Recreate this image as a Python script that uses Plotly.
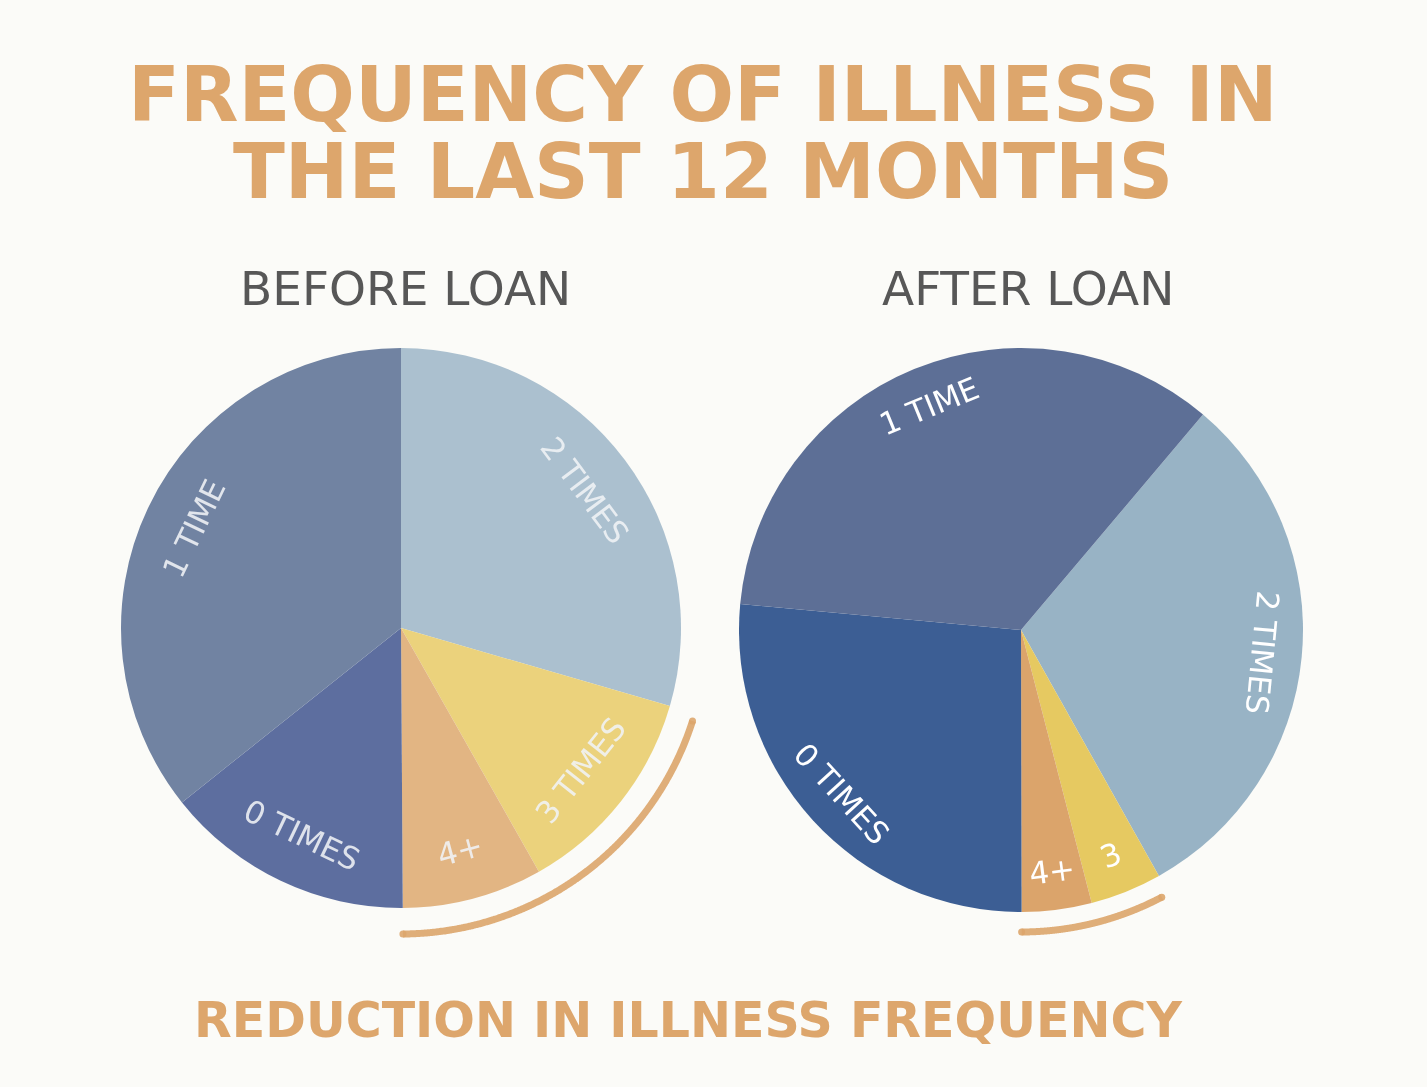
import math
import plotly.graph_objects as go

W, H = 1427, 1087

# ---- data (share of respondents, %) ----
labels_before = ["2 TIMES", "3 TIMES", "4+", "0 TIMES", "1 TIME"]
values_before = [29.5, 12.3, 8.1, 14.4, 35.7]
colors_before = ["#abc0cf", "#ebd27c", "#e2b583", "#5d6e9f", "#7183a2"]

labels_after = ["2 TIMES", "3", "4+", "0 TIMES", "1 TIME"]
values_after = [30.7, 4.1, 4.0, 26.5, 34.7]
colors_after = ["#98b3c5", "#e6c961", "#dba46b", "#3c5e94", "#5d6f96"]
rotation_after = 40.2

title_lines = ["FREQUENCY OF ILLNESS IN", "THE LAST 12 MONTHS"]
subtitles = ["BEFORE LOAN", "AFTER LOAN"]
footer = "REDUCTION IN ILLNESS FREQUENCY"

# ---- layout geometry (pixels) ----
pies = [
    dict(cx=401, cy=628, r=280, labels=labels_before, values=values_before,
         colors=colors_before, rot=0, tcolor="rgba(240,242,246,0.88)", arc_r=306, lr=0.82),
    dict(cx=1021, cy=630, r=282, labels=labels_after, values=values_after,
         colors=colors_after, rot=rotation_after, tcolor="#ffffff", arc_r=302, lr=0.86),
]

ORANGE = "#dda66c"
fig = go.Figure()
annotations = []

for p in pies:
    fig.add_trace(go.Pie(
        labels=p["labels"], values=p["values"], sort=False, direction="clockwise",
        rotation=p["rot"], marker=dict(colors=p["colors"], line=dict(width=0)),
        textinfo="none", hoverinfo="label+percent", showlegend=False,
        domain=dict(x=[(p["cx"] - p["r"]) / W, (p["cx"] + p["r"]) / W],
                    y=[1 - (p["cy"] + p["r"]) / H, 1 - (p["cy"] - p["r"]) / H]),
    ))
    total = sum(p["values"])
    ang = p["rot"]
    starts = []
    for lab, v in zip(p["labels"], p["values"]):
        span = v / total * 360
        starts.append(ang)
        mid = ang + span / 2
        th = math.radians(mid)
        rr = p["r"] * p["lr"]
        x = p["cx"] + rr * math.sin(th)
        y = p["cy"] - rr * math.cos(th)
        m = mid % 360
        if 105 < m < 255:
            ta = m - 180
        else:
            ta = m if m <= 180 else m - 360
        annotations.append(dict(x=x, y=y, xref="x", yref="y", text=lab, showarrow=False,
                                textangle=ta, xanchor="center", yanchor="middle",
                                font=dict(family="DejaVu Sans", size=31, color=p["tcolor"])))
        ang += span
    # decorative arc spanning the "3" and "4+" slices
    a0 = starts[1] + 1.5
    a1 = starts[3]
    n = 240
    xs, ys = [], []
    for i in range(n + 1):
        t = math.radians(a0 + (a1 - a0) * i / n)
        xs.append(p["cx"] + p["arc_r"] * math.sin(t))
        ys.append(p["cy"] - p["arc_r"] * math.cos(t))
    fig.add_trace(go.Scatter(x=xs, y=ys, mode="lines",
                             line=dict(color=ORANGE, width=7, shape="spline"),
                             hoverinfo="skip", showlegend=False, opacity=0.9))
    fig.add_trace(go.Scatter(x=[xs[0], xs[-1]], y=[ys[0], ys[-1]], mode="markers",
                             marker=dict(color=ORANGE, size=7, line=dict(width=0)),
                             hoverinfo="skip", showlegend=False, opacity=0.9))

# titles
for i, line in enumerate(title_lines):
    annotations.append(dict(x=703, y=94 + i * 77, xref="x", yref="y", text=f"<b>{line}</b>",
                            showarrow=False, xanchor="center", yanchor="middle",
                            font=dict(family="DejaVu Sans", size=76, color=ORANGE)))
for sx, s in zip([405, 1028], subtitles):
    annotations.append(dict(x=sx, y=288, xref="x", yref="y", text=s, showarrow=False,
                            xanchor="center", yanchor="middle",
                            font=dict(family="DejaVu Sans", size=47, color="#575757")))
annotations.append(dict(x=688, y=1020, xref="x", yref="y", text=f"<b>{footer}</b>",
                        showarrow=False, xanchor="center", yanchor="middle",
                        font=dict(family="DejaVu Sans", size=49, color=ORANGE)))

fig.update_layout(
    width=W, height=H, margin=dict(l=0, r=0, t=0, b=0),
    paper_bgcolor="#fbfbf8", plot_bgcolor="rgba(0,0,0,0)",
    xaxis=dict(range=[0, W], visible=False, fixedrange=True),
    yaxis=dict(range=[H, 0], visible=False, fixedrange=True),
    annotations=annotations,
)
fig.write_html("out.html", config={"displayModeBar": False},
               post_script="document.body.style.margin='0';document.body.style.overflow='hidden';")
